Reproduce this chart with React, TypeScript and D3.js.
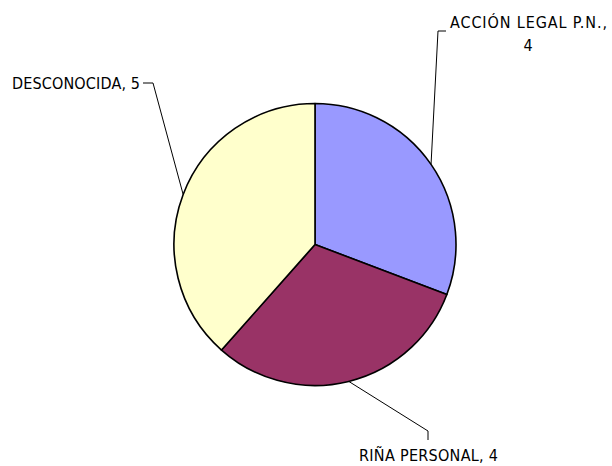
import React from "react";
import * as d3 from "d3";

const categories = ["ACCIÓN LEGAL P.N.", "RIÑA PERSONAL", "DESCONOCIDA"];
const values = [4, 4, 5];
const colors = ["#9999FF", "#993366", "#FFFFCC"];

// label layout (elbow point, end of leader, text placement)
const labelLayout = [
  { elbow: [438, 31], end: [446, 31], lines: ["ACCIÓN LEGAL P.N.,", "4"], tx: [450, 528], ty: [28, 51], anchor: ["start", "middle"], len: [157, 0] },
  { elbow: [428, 431], end: [428, 440], lines: ["RIÑA PERSONAL, 4"], tx: [428.5], ty: [461], anchor: ["middle"], len: [139] },
  { elbow: [153, 83], end: [143, 83], lines: ["DESCONOCIDA, 5"], tx: [140], ty: [89], anchor: ["end"], len: [128] },
];

const W = 612, H = 466;
const cx = 315, cy = 244.5, R = 141;

export default function App() {
  const pie = d3.pie<number>().sort(null).value((d) => d)(values);
  const arc = d3.arc<d3.PieArcDatum<number>>().innerRadius(0).outerRadius(R);
  const font = "'Liberation Sans Narrow', 'DejaVu Sans Condensed', 'Liberation Sans', Arial, sans-serif";
  return (
    <svg width={W} height={H} style={{ position: "absolute", left: 0, top: 0, background: "#fff" }}>
      <g transform={`translate(${cx},${cy})`}>
        {pie.map((p, i) => (
          <path key={i} d={arc(p) || ""} fill={colors[i]} stroke="#000" strokeWidth={1.6} strokeLinejoin="round" />
        ))}
      </g>
      {pie.map((p, i) => {
        const a = (p.startAngle + p.endAngle) / 2;
        const x0 = cx + R * Math.sin(a);
        const y0 = cy - R * Math.cos(a);
        const L = labelLayout[i];
        return (
          <g key={i}>
            <polyline
              points={`${x0},${y0} ${L.elbow[0]},${L.elbow[1]} ${L.end[0]},${L.end[1]}`}
              fill="none"
              stroke="#000"
              strokeWidth={1}
            />
            {L.lines.map((t, j) => (
              <text
                key={j}
                x={L.tx[j]}
                y={L.ty[j]}
                textAnchor={L.anchor[j] as any}
                fontFamily={font}
                fontSize={16}
                fill="#000"
                {...(L.len[j] ? { textLength: L.len[j], lengthAdjust: "spacing" } : {})}
              >
                {t}
              </text>
            ))}
          </g>
        );
      })}
      <text style={{ display: "none" }}>{categories.join(",")}</text>
    </svg>
  );
}
